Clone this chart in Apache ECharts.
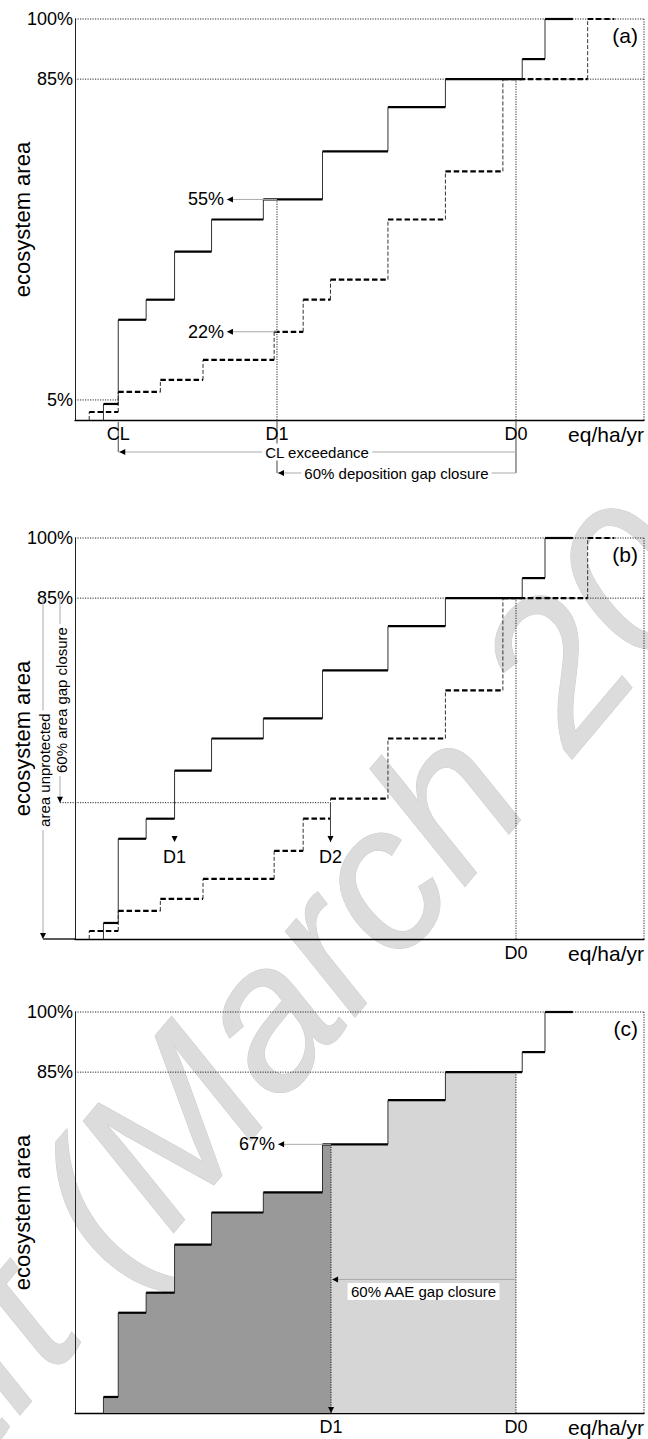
<!DOCTYPE html>
<html><head><meta charset="utf-8">
<script src="https://cdn.jsdelivr.net/npm/echarts@6/dist/echarts.min.js"></script>
<style>html,body{margin:0;padding:0;background:#fff}#c{width:648px;height:1439px}</style>
</head><body><div id="c"></div>
<script>
// ---------- data (x in % of deposition axis, y in % ecosystem area) ----------
const solidX = [5.0, 7.6, 12.5, 17.5, 24.0, 33.1, 43.5, 55.0, 65.1, 78.6, 82.6, 87.5];
const solidY = [4, 25, 30, 42, 50, 55, 67, 78, 85, 90, 100];
const dashX  = [2.5, 7.6, 15.0, 22.5, 35.0, 40.1, 44.9, 55.0, 65.1, 75.2, 90.1, 94.8];
const dashY  = [2, 7, 10, 15, 22, 30, 35, 50, 62, 85, 100];
const yTicksA  = [5, 85, 100];
const yTicksBC = [85, 100];
const CL = 7.6, D0 = 77.5;
const D1a = 35.5, shareSolidA = 55, shareDashA = 22, arrowTipA = 26.7;
const D1b = 17.5, D2b = 44.9, areaTarget = 34, dMarkY = 24.2;
const D1c = 45.0, shareC = 67, arrowTipC = 35.7, aaeArrowY = 33.3;
const panelTags = ['(a)', '(b)', '(c)'];
const yTitle = 'ecosystem area', xUnit = 'eq/ha/yr';
const watermark = 'Draft (March 2012)';

// ---------- styling ----------
const FONT = '"Liberation Sans", Arial, Helvetica, sans-serif';
const GRID_TOPS = [19, 538, 1012];
const DOT  = {color: '#111', width: 0.9, dash: [1.2, 1.3]};
const GRAY = {color: '#aaaaaa', width: 1};
const DARK = {color: '#444', width: 1};

function steps(xs, ys) {
  const h = [], v = [];
  for (let i = 0; i < ys.length; i++) {
    v.push([xs[i], i === 0 ? 0 : ys[i - 1], xs[i], ys[i]]);
    h.push([xs[i], ys[i], xs[i + 1], ys[i]]);
  }
  return {h, v};
}
function stepPortion(xs, ys, xa, xb) {
  const pts = []; let last = 0;
  for (let i = 0; i < ys.length; i++) {
    const lo = Math.max(xs[i], xa), hi = Math.min(xs[i + 1], xb);
    if (lo < hi) { pts.push([lo, ys[i]]); last = ys[i]; }
  }
  pts.push([xb, last]);
  return pts;
}
function segSeries(gi, segs, st, z) {
  return {
    type: 'custom', coordinateSystem: 'cartesian2d', xAxisIndex: gi, yAxisIndex: gi,
    silent: true, clip: false, z: z || 4, data: segs, encode: {x: [0, 2], y: [1, 3]},
    renderItem: (p, api) => {
      const a = api.coord([api.value(0), api.value(1)]);
      const b = api.coord([api.value(2), api.value(3)]);
      return {type: 'line', shape: {x1: a[0], y1: a[1], x2: b[0], y2: b[1]},
        style: {stroke: st.color, lineWidth: st.width, lineDash: st.dash || null, lineCap: 'butt'}};
    }
  };
}
// annotation helpers
const T = (x, y, text, o) => Object.assign({k: 't', x, y, text}, o || {});
const S = (x0, y0, x1, y1, st, o) => Object.assign({k: 's', x: x0, y: y0, x1, y1, st}, o || {});
const A = (x, y, dir, o) => Object.assign({k: 'a', x, y, dir}, o || {});

function drawItem(it, api) {
  if (it.k === 't') {
    const p = api.coord([it.x, it.y]);
    const style = {text: it.text, fill: '#000', fontSize: it.size || 18, fontFamily: FONT,
      align: it.align || 'center', verticalAlign: 'middle'};
    if (it.bg) { style.backgroundColor = it.bg; style.padding = [1, 3]; }
    return {type: 'text', x: p[0] + (it.dx || 0), y: p[1] + (it.dy || 0), rotation: it.rot || 0, style};
  }
  if (it.k === 's') {
    const a = api.coord([it.x, it.y]), b = api.coord([it.x1, it.y1]);
    return {type: 'line', shape: {x1: a[0] + (it.ox0 || 0), y1: a[1] + (it.oy0 || 0),
      x2: b[0] + (it.ox1 || 0), y2: b[1] + (it.oy1 || 0)},
      style: {stroke: it.st.color, lineWidth: it.st.width, lineDash: it.st.dash || null}};
  }
  const p = api.coord([it.x, it.y]);
  const x = p[0] + (it.ox || 0), y = p[1] + (it.oy || 0), L = 6, W = 3;
  const pts = it.dir === 'left' ? [[x, y], [x + L, y - W], [x + L, y + W]]
                                 : [[x, y], [x - W, y - L], [x + W, y - L]];
  return {type: 'polygon', shape: {points: pts}, style: {fill: '#000'}};
}
function annSeries(gi, items) {
  return {
    type: 'custom', coordinateSystem: 'cartesian2d', xAxisIndex: gi, yAxisIndex: gi,
    silent: true, clip: false, z: 6, data: items.map(it => [it.x, it.y]),
    renderItem: (p, api) => drawItem(items[p.dataIndex], api)
  };
}
function common(gi, tag, ticks) {
  const out = [
    S(0, 100, 100, 100, DOT), S(100, 0, 100, 100, DOT),
    T(100, 100, tag, {align: 'right', dx: -6, dy: 16, size: 21}),
    T(100, 0, xUnit, {align: 'right', dy: 14, size: 21}),
    T(0, 50, yTitle, {dx: -53, rot: Math.PI / 2, size: 22})
  ];
  ticks.forEach(t => out.push(T(0, t, t + '%', {align: 'right', dx: -2, size: 18})));
  return out;
}

// ---------- panel annotations ----------
const annA = common(0, panelTags[0], yTicksA).concat([
  S(0, 85, 100, 85, DOT), S(0, 5, CL, 5, DOT),
  S(D1a, 0, D1a, shareSolidA, DOT), S(D0, 0, D0, 85, DOT),
  S(D1a, shareSolidA, arrowTipA, shareSolidA, GRAY), A(arrowTipA, shareSolidA, 'left'),
  S(D1a, shareDashA, arrowTipA, shareDashA, GRAY), A(arrowTipA, shareDashA, 'left'),
  T(arrowTipA, shareSolidA, shareSolidA + '%', {align: 'right', dx: -3}),
  T(arrowTipA, shareDashA, shareDashA + '%', {align: 'right', dx: -3}),
  S(CL, 0, CL, 0, DARK, {oy0: 2, oy1: 32}),
  S(D1a, 0, D1a, 0, DARK, {oy1: 53}),
  S(D0, 0, D0, 0, DARK, {oy1: 53}),
  S(CL, 0, D0, 0, GRAY, {oy0: 32, oy1: 32}), A(CL, 0, 'left', {oy: 32, ox: 1}),
  T((CL + D0) / 2, 0, 'CL exceedance', {dy: 32, size: 15, bg: '#fff'}),
  S(D1a, 0, D0, 0, GRAY, {oy0: 53, oy1: 53}), A(D1a, 0, 'left', {oy: 53, ox: 1}),
  T((D1a + D0) / 2, 0, '60% deposition gap closure', {dy: 53, size: 15, bg: '#fff'}),
  T(CL, 0, 'CL', {dy: 14}), T(D1a, 0, 'D1', {dy: 14}), T(D0, 0, 'D0', {dy: 14})
]);
const annB = common(1, panelTags[1], yTicksBC).concat([
  S(0, 85, 100, 85, DOT), S(D0, 0, D0, 85, DOT),
  S(0, 0, 0, 0, {color: '#000', width: 1.3}, {ox0: -32}),
  S(0, 85, 0, 0, GRAY, {ox0: -32, ox1: -32}), A(0, 0, 'down', {ox: -32}),
  T(0, 42.1, 'area unprotected', {dx: -31, rot: Math.PI / 2, size: 15, bg: '#fff'}),
  S(0, 85, 0, areaTarget, GRAY, {ox0: -15, ox1: -15}), A(0, areaTarget, 'down', {ox: -15}),
  T(0, 59.6, '60% area gap closure', {dx: -14, rot: Math.PI / 2, size: 15, bg: '#fff'}),
  S(0, areaTarget, D2b, areaTarget, DOT, {ox0: -15}),
  A(D1b, dMarkY, 'down'), T(D1b, dMarkY, 'D1', {dy: 15}),
  S(D2b, areaTarget, D2b, dMarkY, DARK), A(D2b, dMarkY, 'down'), T(D2b, dMarkY, 'D2', {dy: 15}),
  T(D0, 0, 'D0', {dy: 14})
]);
const annC = common(2, panelTags[2], yTicksBC).concat([
  S(0, 85, D0, 85, DOT), S(D0, 0, D0, 85, DOT),
  S(D1c, 0, D1c, shareC, DOT), A(D1c, 0, 'down'),
  S(D1c, shareC, arrowTipC, shareC, GRAY), A(arrowTipC, shareC, 'left'),
  T(arrowTipC, shareC, shareC + '%', {align: 'right', dx: -3}),
  S(D0, aaeArrowY, D1c, aaeArrowY, GRAY), A(D1c, aaeArrowY, 'left', {ox: 1}),
  T((D1c + D0) / 2, aaeArrowY, '60% AAE gap closure', {dy: 12, size: 15, bg: '#fff'}),
  T(D1c, 0, 'D1', {dy: 14}), T(D0, 0, 'D0', {dy: 14})
]);

// ---------- assemble ----------
const sSolid = steps(solidX, solidY), sDash = steps(dashX, dashY);
const SOLID_H = {color: '#000', width: 2.2};
const SOLID_V = {color: '#333', width: 1};
const DASH_H  = {color: '#000', width: 2.2, dash: [5.5, 2.8]};
const DASH_V  = {color: '#333', width: 1, dash: [4, 2]};

const grids = [], xAxes = [], yAxes = [], series = [];
GRID_TOPS.forEach((top, gi) => {
  grids.push({left: 75, width: 569, top, height: 401});
  xAxes.push({type: 'value', gridIndex: gi, min: 0, max: 100, axisLabel: {show: false},
    axisTick: {show: false}, splitLine: {show: false},
    axisLine: {show: true, lineStyle: {color: '#000', width: 1.3}}});
  yAxes.push({type: 'value', gridIndex: gi, min: 0, max: 100, axisLabel: {show: false},
    axisTick: {show: false}, splitLine: {show: false},
    axisLine: {show: true, lineStyle: {color: '#222', width: 1}}});
});
// panel (c) filled areas
const areaDark = stepPortion(solidX, solidY, solidX[0], D1c);
const areaLight = stepPortion(solidX, solidY, D1c, D0);
[[areaDark, '#999999'], [areaLight, '#d6d6d6']].forEach(([d, c]) => series.push({
  type: 'line', xAxisIndex: 2, yAxisIndex: 2, data: d, step: 'end', symbol: 'none', silent: true,
  lineStyle: {width: 0, opacity: 0}, areaStyle: {color: c, opacity: 1}, z: 2
}));
[0, 1].forEach(gi => {
  series.push(segSeries(gi, sDash.v, DASH_V, 3), segSeries(gi, sDash.h, DASH_H, 4));
});
[0, 1, 2].forEach(gi => {
  series.push(segSeries(gi, sSolid.v, SOLID_V, 3), segSeries(gi, sSolid.h, SOLID_H, 5));
});
series.push(annSeries(0, annA), annSeries(1, annB), annSeries(2, annC));

const chart = echarts.init(document.getElementById('c'), null, {renderer: 'svg', width: 648, height: 1439});
chart.setOption({
  animation: false,
  backgroundColor: '#fff',
  textStyle: {fontFamily: FONT},
  grid: grids, xAxis: xAxes, yAxis: yAxes, series,
  graphic: {elements: [{
    type: 'text', x: -252, y: 1627, rotation: 0.871, z: -10, silent: true,
    style: {text: watermark, font: 'italic 205px "Liberation Sans", Arial, sans-serif',
      fill: '#dcdcdc', stroke: '#cbcbcb', lineWidth: 1, align: 'left', verticalAlign: 'middle'}
  }]}
});
</script></body></html>
